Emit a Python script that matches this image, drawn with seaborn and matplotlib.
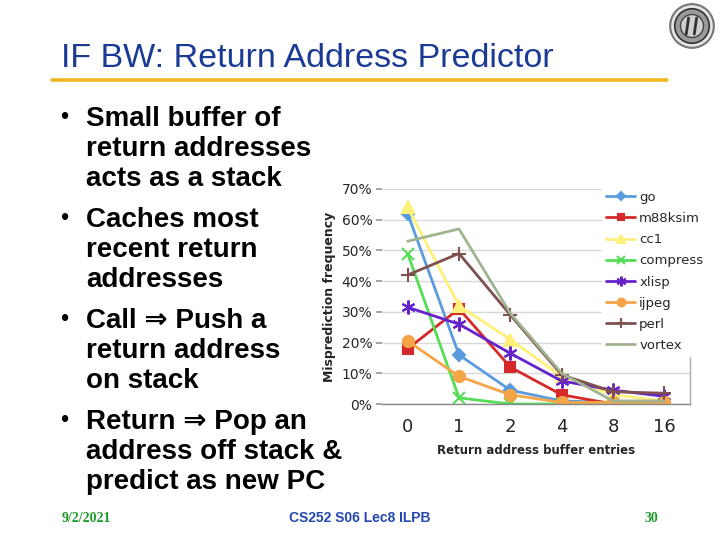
import numpy as np
import pandas as pd
import matplotlib
matplotlib.use("Agg")
import matplotlib.pyplot as plt
import matplotlib.ticker as mticker
from matplotlib.patches import Circle
import seaborn as sns

# data (misprediction frequency, fraction)
entries = ["0", "1", "2", "4", "8", "16"]
go       = [0.62, 0.16, 0.045, 0.010, 0.005, 0.005]
m88ksim  = [0.18, 0.31, 0.12, 0.030, 0.000, 0.000]
cc1      = [0.64, 0.32, 0.21, 0.090, 0.030, 0.010]
compress = [0.49, 0.02, 0.000, 0.000, 0.000, 0.000]
xlisp    = [0.315, 0.26, 0.165, 0.075, 0.045, 0.025]
ijpeg    = [0.205, 0.09, 0.030, 0.005, 0.005, 0.005]
perl     = [0.42, 0.49, 0.29, 0.095, 0.040, 0.035]
vortex   = [0.53, 0.57, 0.295, 0.100, 0.010, 0.010]

names = ["go", "m88ksim", "cc1", "compress", "xlisp", "ijpeg", "perl", "vortex"]
series = [go, m88ksim, cc1, compress, xlisp, ijpeg, perl, vortex]

colors = {
    "go": "#5A9BE0", "m88ksim": "#D62A2A", "cc1": "#FFF07A", "compress": "#55DD55",
    "xlisp": "#6622CC", "ijpeg": "#F5A548", "perl": "#7E5050", "vortex": "#A0B492",
}
markers = {
    "go": "D", "m88ksim": "s", "cc1": "^", "compress": "x",
    "xlisp": (6, 2, 0), "ijpeg": "o", "perl": "+", "vortex": None,
}
msizes = {"go": 6, "m88ksim": 7, "cc1": 8, "compress": 9,
          "xlisp": 10, "ijpeg": 8, "perl": 10, "vortex": 0}

bullets = [
    ["Small buffer of", "return addresses", "acts as a stack"],
    ["Caches most", "recent return", "addresses"],
    ["Call \u21d2 Push a", "return address", "on stack"],
    ["Return \u21d2 Pop an", "address off stack &", "predict as new PC"],
]

sns.set_theme(style="white")
plt.rcParams["font.family"] = ["DejaVu Sans"]

W, H = 720, 540
fig = plt.figure(figsize=(7.2, 5.4), dpi=100, facecolor="white")


def px(x, y):
    return x / W, 1 - y / H


# slide title + rule
sans = ["Liberation Sans", "DejaVu Sans"]
fig.text(*px(61, 67), "IF BW: Return Address Predictor", family=sans,
         fontsize=24.5, color="#1B3A94", va="baseline", ha="left")
fig.add_artist(plt.Line2D([52 / W, 667 / W], [1 - 80 / H] * 2,
                          color="#F2B720", lw=2.6, transform=fig.transFigure))

# bullet text
y0 = 126
for bl in bullets:
    fig.text(*px(60, y0 - 2), "\u2022", family=sans, fontsize=17,
             color="black", va="baseline", ha="left")
    for i, line in enumerate(bl):
        fig.text(*px(86, y0 + 30 * i), line, family=sans, fontsize=20,
                 fontweight="bold", color="black", va="baseline", ha="left")
    y0 += 101

# footer
serif = ["Liberation Serif", "DejaVu Serif"]
fig.text(*px(62, 522), "9/2/2021", family=serif, fontsize=10,
         fontweight="bold", color="#1E9A2A", va="baseline")
fig.text(*px(360, 522), "CS252 S06 Lec8 ILPB", family=sans, fontsize=10,
         fontweight="bold", color="#2448B0", va="baseline", ha="center")
fig.text(*px(651, 522), "30", family=serif, fontsize=10,
         fontweight="bold", color="#1E9A2A", va="baseline", ha="center")

# logo (seal)
lax = fig.add_axes([669 / W, 1 - 49 / H, 46 / W, 46 / H])
lax.set_xlim(-1, 1)
lax.set_ylim(-1, 1)
lax.set_aspect("equal")
lax.axis("off")
lax.add_patch(Circle((0, 0), 0.95, facecolor="#E6E6E6", edgecolor="#777777", lw=1.5))
lax.add_patch(Circle((0, 0), 0.75, facecolor="#9A9A9A", edgecolor="#333333", lw=1.2))
lax.add_patch(Circle((0, 0), 0.5, facecolor="#D0D0D0", edgecolor="#444444", lw=1.0))
lax.plot([-0.25, -0.15], [-0.35, 0.35], color="#333333", lw=2)
lax.plot([0.1, 0.2], [-0.35, 0.35], color="#333333", lw=2)

# chart
ax = fig.add_axes([382 / W, 1 - 404 / H, 308 / W, 215 / H])
for name, vals in zip(names, series):
    kw = dict(marker=markers[name], markersize=msizes[name])
    if markers[name] is not None:
        kw.update(markeredgecolor=colors[name], markeredgewidth=1.5)
    sns.lineplot(x=np.arange(len(entries)), y=vals, ax=ax, color=colors[name],
                 linewidth=2, label=name, **kw)

ax.set_xlim(-0.5, len(entries) - 0.5)
ax.set_ylim(0, 0.7)
ax.set_yticks(np.arange(0, 0.71, 0.1))
ax.yaxis.set_major_formatter(mticker.PercentFormatter(1.0, decimals=0))
ax.set_xticks(np.arange(len(entries)))
ax.set_xticklabels(entries)
ax.set_xticks(np.arange(-0.5, len(entries)), minor=True)
ax.tick_params(axis="x", which="major", length=0, labelsize=13, pad=10)
ax.tick_params(axis="x", which="minor", length=5, color="#999999", direction="out")
ax.tick_params(axis="y", length=4, color="#999999", labelsize=10, pad=3,
               left=True, direction="out")
ax.grid(axis="y", color="#D8D8D8", lw=1)
ax.set_axisbelow(True)
for sp in ax.spines.values():
    sp.set_color("#AAAAAA")
    sp.set_linewidth(1)
ax.spines["bottom"].set_color("#888888")
ax.spines["left"].set_visible(False)
ax.spines["top"].set_visible(False)

ax.set_xlabel("Return address buffer entries", fontsize=8.5, fontweight="bold",
              labelpad=6)
ax.set_ylabel("Misprediction frequency", fontsize=9, fontweight="bold",
              labelpad=4)

leg = ax.legend(loc="upper left", bbox_to_anchor=(0.715, 1.01), frameon=True,
                facecolor="white", edgecolor="white", framealpha=1,
                fontsize=9.5, handlelength=2.2, labelspacing=0.62, markerscale=0.7,
                borderaxespad=0, borderpad=0.3, handletextpad=0.3, fancybox=False)
leg.set_zorder(5)

fig.savefig("out.png", dpi=100, facecolor="white")
